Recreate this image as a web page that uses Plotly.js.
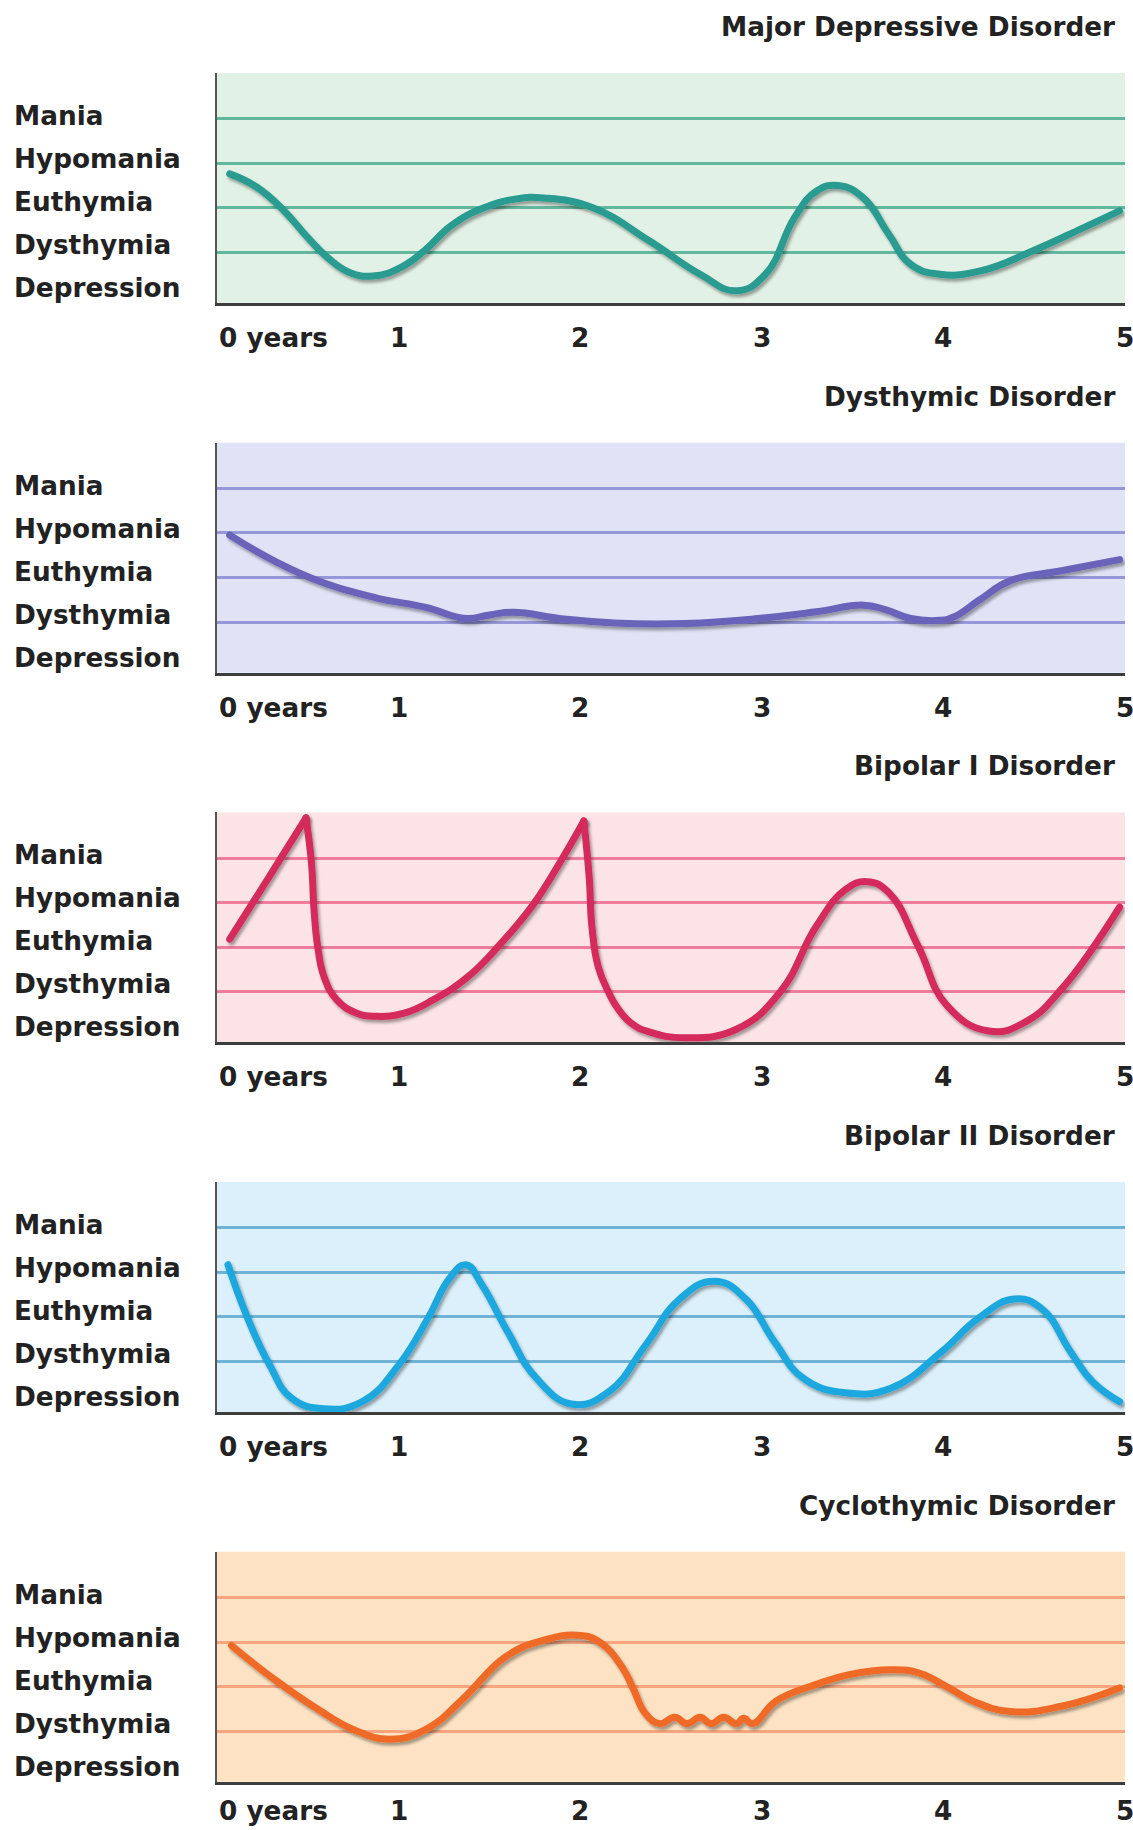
<!DOCTYPE html>
<html>
<head>
<meta charset="utf-8">
<script src="https://cdn.plot.ly/plotly-3.0.1.min.js"></script>
<style>
html, body { margin: 0; padding: 0; background: #ffffff; overflow: hidden; }
#chart { width: 1133px; height: 1830px; }
</style>
</head>
<body>
<div id="chart"></div>
<script>
// ---------- data ----------
const panelTitles = ['Major Depressive Disorder', 'Dysthymic Disorder', 'Bipolar I Disorder', 'Bipolar II Disorder', 'Cyclothymic Disorder'];
const moodLevels = ['Depression', 'Dysthymia', 'Euthymia', 'Hypomania', 'Mania'];
const gridLevels = [1, 2, 3, 4];
const yearTicks = [0, 1, 2, 3, 4, 5];
const yearLabels = ['0 years', '1', '2', '3', '4', '5'];

const mddX = [0.07, 0.22, 0.37, 0.50, 0.61, 0.73, 0.86, 1.01, 1.14, 1.29, 1.47, 1.65, 1.80, 2.07, 2.38, 2.66, 2.86, 3.02, 3.18, 3.30, 3.42, 3.56, 3.70, 3.82, 3.98, 4.21, 4.49, 4.77, 4.97];
const mddY = [2.76, 2.46, 1.93, 1.33, 0.88, 0.55, 0.47, 0.66, 1.03, 1.60, 2.00, 2.20, 2.22, 2.00, 1.26, 0.51, 0.14, 0.51, 1.78, 2.37, 2.50, 2.22, 1.40, 0.73, 0.51, 0.59, 1.03, 1.55, 1.93];

const dysX = [0.07, 0.32, 0.56, 0.87, 1.15, 1.37, 1.50, 1.63, 1.91, 2.19, 2.58, 2.98, 3.30, 3.56, 3.68, 3.82, 3.98, 4.06, 4.20, 4.37, 4.65, 4.97];
const dysY = [2.95, 2.36, 1.92, 1.55, 1.33, 1.08, 1.16, 1.22, 1.07, 0.98, 0.97, 1.08, 1.23, 1.38, 1.28, 1.08, 1.04, 1.12, 1.50, 1.93, 2.15, 2.40];

const bp1X = [0.07, 0.28, 0.49, 0.52, 0.535, 0.555, 0.59, 0.66, 0.77, 0.88, 1.03, 1.19, 1.38, 1.56, 1.74, 1.89, 2.02, 2.05, 2.065, 2.10, 2.16, 2.20, 2.28, 2.38, 2.58, 2.86, 3.10, 3.30, 3.46, 3.58, 3.70, 3.86, 4.02, 4.25, 4.45, 4.65, 4.97];
const bp1Y = [2.18, 3.53, 4.90, 3.90, 2.80, 2.00, 1.33, 0.82, 0.52, 0.45, 0.52, 0.82, 1.33, 2.07, 2.95, 3.91, 4.83, 3.54, 2.44, 1.55, 0.96, 0.67, 0.30, 0.10, -0.03, 0.16, 0.99, 2.47, 3.29, 3.47, 3.22, 2.03, 0.69, 0.12, 0.32, 1.06, 2.90];
const bp1Corners = [2, 16];   // indices of the sharp manic peaks

const bp2X = [0.06, 0.17, 0.29, 0.41, 0.59, 0.80, 1.00, 1.16, 1.28, 1.37, 1.46, 1.60, 1.76, 1.96, 2.16, 2.36, 2.55, 2.74, 2.91, 3.07, 3.23, 3.46, 3.71, 3.99, 4.19, 4.39, 4.54, 4.70, 4.82, 4.97];
const bp2Y = [3.17, 1.96, 0.92, 0.18, -0.06, 0.10, 0.92, 1.96, 2.86, 3.17, 2.71, 1.67, 0.62, 0.04, 0.33, 1.37, 2.41, 2.80, 2.41, 1.44, 0.62, 0.30, 0.40, 1.22, 1.96, 2.40, 2.19, 1.22, 0.55, 0.10];

const cycX = [0.08, 0.32, 0.56, 0.75, 0.95, 1.15, 1.35, 1.59, 1.79, 1.99, 2.11, 2.23, 2.29, 2.36, 2.44, 2.52, 2.59, 2.66, 2.72, 2.79, 2.86, 2.90, 2.95, 3.08, 3.30, 3.48, 3.72, 3.87, 4.03, 4.16, 4.37, 4.65, 4.97];
const cycY = [2.92, 2.15, 1.48, 1.04, 0.82, 1.04, 1.71, 2.67, 3.03, 3.15, 2.99, 2.44, 1.97, 1.39, 1.17, 1.31, 1.17, 1.31, 1.17, 1.31, 1.17, 1.29, 1.17, 1.68, 2.05, 2.27, 2.38, 2.30, 1.97, 1.68, 1.44, 1.56, 1.97];

const seriesX = [mddX, dysX, bp1X, bp2X, cycX];
const seriesY = [mddY, dysY, bp1Y, bp2Y, cycY];
const seriesCorners = [[], [], bp1Corners, [], []];

// ---------- styles ----------
const palettes = [
  { bg: '#e2f1e5', grid: '#62b89e', line: '#2a9b90' },
  { bg: '#dfe3f5', grid: '#9597d8', line: '#6a63ba' },
  { bg: '#fce4e6', grid: '#f07c9c', line: '#d42a5b' },
  { bg: '#dbf0fa', grid: '#6eb3d6', line: '#1ea8de' },
  { bg: '#fde3c3', grid: '#f7a57e', line: '#ef6a26' }
];
const textFont = { family: 'DejaVu Sans, Verdana, sans-serif', color: '#222222', weight: 700 };
const fontSize = 26.3;

// ---------- layout ----------
const W = 1133, H = 1830;
const plotLeft = 217, plotRight = 1125;
const firstAxis = 303, panelStep = 369.7, plotH = 230;
const pxPerUnit = 44.6, zeroOffset = 6;

function splitAtCorners(xs, ys, corners) {
  const cuts = [0].concat(corners, [xs.length - 1]);
  const parts = [];
  for (let i = 0; i < cuts.length - 1; i++) {
    parts.push({ x: xs.slice(cuts[i], cuts[i + 1] + 1), y: ys.slice(cuts[i], cuts[i + 1] + 1) });
  }
  return parts;
}

const traces = [];
const layout = {
  width: W, height: H,
  margin: { l: 0, r: 0, t: 0, b: 0 },
  paper_bgcolor: '#ffffff',
  plot_bgcolor: 'rgba(0,0,0,0)',
  showlegend: false,
  shapes: [],
  annotations: []
};

for (let k = 0; k < 5; k++) {
  const A = firstAxis + k * panelStep;
  const sfx = k === 0 ? '' : String(k + 1);
  const pal = palettes[k];
  layout['xaxis' + sfx] = {
    domain: [plotLeft / W, plotRight / W], range: [0, 5], anchor: 'y' + sfx,
    showgrid: false, zeroline: false, showticklabels: false, ticks: '',
    showline: true, linecolor: '#3d3d3d', linewidth: 3, fixedrange: true
  };
  layout['yaxis' + sfx] = {
    domain: [(H - A) / H, (H - A + plotH) / H],
    range: [-zeroOffset / pxPerUnit, (plotH - zeroOffset) / pxPerUnit], anchor: 'x' + sfx,
    tickvals: gridLevels, showticklabels: false, ticks: '',
    showgrid: true, gridcolor: pal.grid, gridwidth: 3, zeroline: false,
    showline: true, linecolor: '#555555', linewidth: 2.5, fixedrange: true
  };
  layout.shapes.push({
    type: 'rect', layer: 'below', xref: 'x' + sfx + ' domain', yref: 'y' + sfx + ' domain',
    x0: 0, x1: 1, y0: 0, y1: 1, fillcolor: pal.bg, line: { width: 0 }
  });
  splitAtCorners(seriesX[k], seriesY[k], seriesCorners[k]).forEach(function (seg) {
    traces.push({
      type: 'scatter', mode: 'lines', x: seg.x, y: seg.y,
      xaxis: 'x' + sfx, yaxis: 'y' + sfx, hoverinfo: 'skip',
      line: { shape: 'spline', smoothing: 1.3, width: 7, color: pal.line }
    });
  });
  // panel title
  layout.annotations.push({
    text: panelTitles[k], xref: 'paper', yref: 'paper',
    x: 1117 / W, y: (H - (A - 276)) / H, xanchor: 'right', yanchor: 'middle',
    showarrow: false, font: Object.assign({ size: fontSize }, textFont)
  });
  // mood level labels
  moodLevels.forEach((lab, i) => {
    layout.annotations.push({
      text: lab, xref: 'paper', yref: 'y' + sfx,
      x: 12 / W, y: (15 + i * 43 - zeroOffset) / pxPerUnit, xanchor: 'left', yanchor: 'middle',
      showarrow: false, font: Object.assign({ size: fontSize }, textFont)
    });
  });
  // year labels (kept inside the page at the bottom edge)
  const labelY = Math.min(A + 35, H - 19);
  yearTicks.forEach((t, i) => {
    layout.annotations.push({
      text: yearLabels[i], xref: 'x' + sfx, yref: 'paper',
      x: t, y: (H - labelY) / H, xanchor: i === 0 ? 'left' : 'center', yanchor: 'middle',
      showarrow: false, font: Object.assign({ size: fontSize }, textFont)
    });
  });
}

Plotly.newPlot('chart', traces, layout, { staticPlot: true, displayModeBar: false }).then(function (gd) {
  const ns = 'http://www.w3.org/2000/svg';
  const svg = gd.querySelector('.main-svg');
  let defs = svg.querySelector('defs');
  if (!defs) { defs = document.createElementNS(ns, 'defs'); svg.insertBefore(defs, svg.firstChild); }
  const filter = document.createElementNS(ns, 'filter');
  filter.setAttribute('id', 'curveShadow');
  filter.setAttribute('x', '-10%'); filter.setAttribute('y', '-15%');
  filter.setAttribute('width', '120%'); filter.setAttribute('height', '140%');
  const ds = document.createElementNS(ns, 'feDropShadow');
  ds.setAttribute('dx', '2'); ds.setAttribute('dy', '3');
  ds.setAttribute('stdDeviation', '1.6');
  ds.setAttribute('flood-color', '#000000'); ds.setAttribute('flood-opacity', '0.35');
  filter.appendChild(ds);
  defs.appendChild(filter);
  gd.querySelectorAll('.scatterlayer .js-line').forEach(function (p) {
    p.setAttribute('filter', 'url(#curveShadow)');
    p.style.strokeLinecap = 'round';
    p.style.strokeLinejoin = 'round';
  });
});
</script>
</body>
</html>
